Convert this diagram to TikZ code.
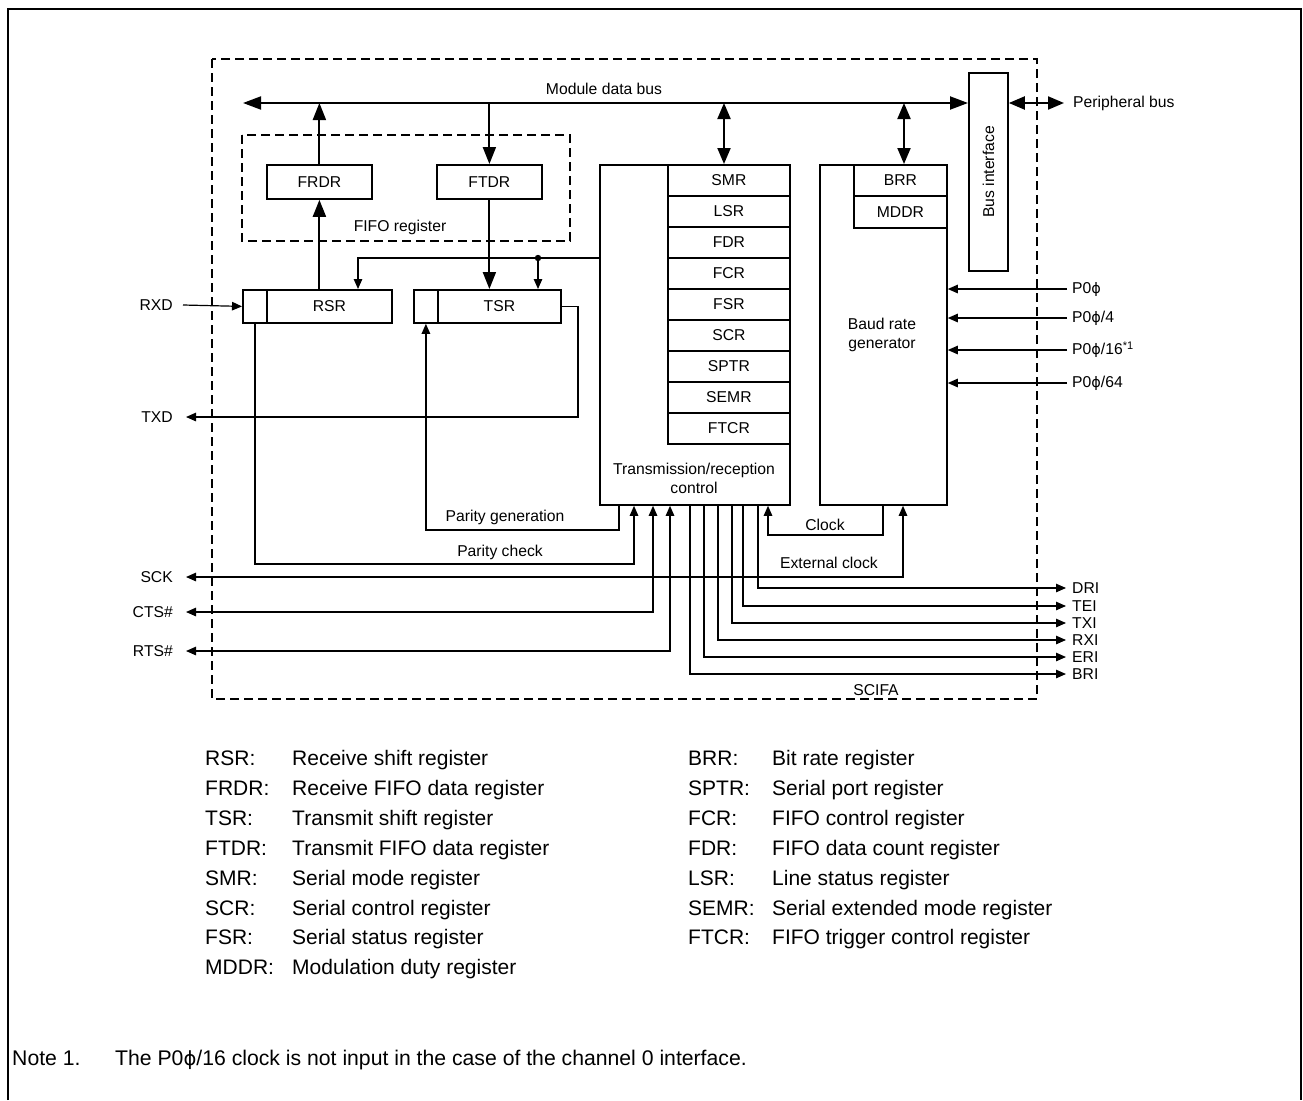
\documentclass[tikz,border=0pt]{standalone}
\usepackage{fontspec}
\setmainfont{Liberation Sans}
\newfontfamily\phifont{DejaVu Sans}
\usetikzlibrary{arrows.meta}
\newcommand\dfont{\fontsize{15.7}{19}\selectfont}
\newcommand\lfont{\fontsize{21}{25}\selectfont}
\newcommand\nfont{\fontsize{21.2}{25}\selectfont}
\newcommand\ph{{\phifont\fontsize{14.5}{17}\selectfont ϕ}}
\newcommand\nph{{\phifont\fontsize{19.5}{23}\selectfont ϕ}}
\begin{document}
\begin{tikzpicture}[x=1pt,y=-1pt,
  box/.style={draw, line width=1.8pt, inner sep=0pt, anchor=north west},
  reg/.style={box, font=\dfont},
  dbox/.style={draw, line width=1.2pt, dash pattern=on 9pt off 5pt},
  sig/.style={line width=1.2pt},
  tip/.style={-{Triangle[length=10pt,width=8.5pt]}},
  btip/.style={{Triangle[length=10pt,width=8.5pt]}-{Triangle[length=10pt,width=8.5pt]}},
  bus/.style={line width=2pt},
  btp/.style={-{Triangle[length=17pt,width=13pt]}},
  bbtp/.style={{Triangle[length=16pt,width=13pt]}-{Triangle[length=16pt,width=13pt]}},
  lbl/.style={font=\dfont, inner sep=0pt},
  leg/.style={font=\lfont, inner sep=0pt, anchor=base west},
]
\useasboundingbox (0,0) rectangle (1303,1100);
% outer frame
\draw[line width=2pt] (8,1100) -- (8,9) -- (1301,9) -- (1301,1100);
% SCIFA boundary
\draw[dbox] (212,59) rectangle (1037,699);
\node[lbl] (scifa) at (876,690) {SCIFA};

% transmission / reception control
\node[box, minimum width=190pt, minimum height=340pt] (ctrl) at (599,164) {};
\foreach \n/\t [count=\i from 0] in {smr/SMR,lsr/LSR,fdr/FDR,fcr/FCR,fsr/FSR,scr/SCR,sptr/SPTR,semr/SEMR,ftcr/FTCR}
  \node[reg, minimum width=122pt, minimum height=31pt] (\n) at (667,{164+31*\i}) {\t};
\node[lbl, align=center] (ctrltxt) at (694,478) {Transmission/reception\\control};

% baud rate generator
\node[box, minimum width=127pt, minimum height=340pt] (baud) at (819,164) {};
\node[reg, minimum width=93pt, minimum height=31pt] (brr) at (853,164) {BRR};
\node[reg, minimum width=93pt, minimum height=32pt] (mddr) at (853,195) {MDDR};
\node[lbl, align=center] (baudtxt) at (882,335) {Baud rate\\generator};

% bus interface
\node[box, minimum width=39pt, minimum height=198pt] (busif) at (968,72) {};
\node[lbl, rotate=90] (busiftxt) at (busif.center) {Bus interface};

% FIFO registers
\draw[dbox] (242,135) rectangle (570,241);
\node[lbl] (fifotxt) at (400,227) {FIFO register};
\node[reg, minimum width=105pt, minimum height=34pt] (frdr) at (266,164) {FRDR};
\node[reg, minimum width=105pt, minimum height=34pt] (ftdr) at (436,164) {FTDR};

% shift registers
\node[box, minimum width=24pt, minimum height=33pt] (rsrc) at (242,289) {};
\node[reg, minimum width=125pt, minimum height=33pt] (rsr) at (266,289) {RSR};
\node[box, minimum width=24pt, minimum height=33pt] (tsrc) at (413,289) {};
\node[reg, minimum width=123pt, minimum height=33pt] (tsr) at (437,289) {TSR};

% module data bus
\coordinate (busL) at (243,103);
\node[lbl] (mdb) at (604,89) {Module data bus};
\draw[bus, {Triangle[length=18pt,width=13pt]}-{Triangle[length=18pt,width=13pt]}] (busL) -- (busL -| busif.west);
\draw[bus, btp] (frdr.north) -- (frdr.north |- busL);
\draw[bus, btp] (ftdr.north |- busL) -- (ftdr.north);
\draw[bus, bbtp] (busL -| 724,0) -- (smr.north -| 724,0);
\draw[bus, bbtp] (busL -| 904,0) -- (brr.north -| 904,0);
\coordinate (pbend) at (1064,103);
\draw[bus, bbtp] (busL -| busif.east) -- (pbend);
\node[lbl, anchor=west] (pbtxt) at (1073,103) {Peripheral bus};

\draw[bus, btp] (frdr.south |- rsr.north) -- (frdr.south);
\draw[bus, btp] (ftdr.south) -- (ftdr.south |- tsr.north);

% control lines to shift registers
\draw[sig, tip] (ctrl.west |- 0,258) -| (rsr.north -| 358,0);
\fill (538,258) circle (3.2pt);
\draw[sig, tip] (538,258) -- (tsr.north -| 538,0);

% left pins
\node[lbl, anchor=east] (rxd) at (173,305) {RXD};
\node[lbl, anchor=east] (txd) at (173,417) {TXD};
\node[lbl, anchor=east] (sck) at (173,577) {SCK};
\node[lbl, anchor=east] (cts) at (173,612) {CTS\#};
\node[lbl, anchor=east] (rts) at (173,651) {RTS\#};

\draw[sig, tip] ([xshift=10pt]rxd.east) -- (rsrc.west);
\draw[sig, tip] (tsr.east) -| (578,417) -- ([xshift=13pt]txd.east);

% parity
\draw[sig, tip] (rsrc.south) |- (634,564) -- (ctrl.south -| 634,0);
\node[lbl] (pchk) at (500,552) {Parity check};
\draw[sig, tip] (ctrl.south -| 619,0) |- (tsrc.south |- 0,530) -- (tsrc.south);
\node[lbl] (pgen) at (505,517) {Parity generation};

% SCK / CTS / RTS
\draw[sig, btip] ([xshift=13pt]sck.east) -| (baud.south -| 903,0);
\node[lbl] (extclk) at (829,563) {External clock};
\draw[sig, btip] ([xshift=13pt]cts.east) -| (ctrl.south -| 653,0);
\draw[sig, btip] ([xshift=13pt]rts.east) -| (ctrl.south -| 670,0);

% clock
\draw[sig, tip] (baud.south -| 883,0) -- (883,535) -- (768,535) -- (ctrl.south -| 768,0);
\node[lbl] (clk) at (825,525) {Clock};

% interrupt outputs
\foreach \x/\y/\n/\t in {758/588/dri/DRI,743/606/tei/TEI,732/623/txi/TXI,718/640/rxi/RXI,704/657/eri/ERI,690/674/bri/BRI}{
  \node[lbl, anchor=west] (\n) at (1072,\y) {\t};
  \draw[sig, tip] (ctrl.south -| \x,0) |- ([xshift=-6pt]\n.west);
}

% clock inputs
\foreach \y/\n/\t in {289/pa/{P0\ph},318/pbb/{P0\ph/4},350/pc/{P0\ph/16\textsuperscript{*1}},383/pd/{P0\ph/64}}{
  \node[lbl, anchor=west] (\n) at (1072,\y) {\t};
  \draw[sig, tip] ([xshift=-5pt]\n.west) -- (baud.east |- \n.west);
}

% legend
\foreach \a/\d [count=\i from 0] in {RSR:/Receive shift register,FRDR:/Receive FIFO data register,TSR:/Transmit shift register,FTDR:/Transmit FIFO data register,SMR:/Serial mode register,SCR:/Serial control register,FSR:/Serial status register,MDDR:/Modulation duty register}{
  \node[leg] (la\i) at (205,{765.5+29.9*\i}) {\a};
  \node[leg] (ld\i) at (292,{765.5+29.9*\i}) {\d};
}
\foreach \a/\d [count=\i from 0] in {BRR:/Bit rate register,SPTR:/Serial port register,FCR:/FIFO control register,FDR:/FIFO data count register,LSR:/Line status register,SEMR:/Serial extended mode register,FTCR:/FIFO trigger control register}{
  \node[leg] (ra\i) at (688,{765.5+29.9*\i}) {\a};
  \node[leg] (rd\i) at (772,{765.5+29.9*\i}) {\d};
}

% note
\node[leg, font=\nfont] (note) at (12,1065) {Note 1.};
\node[leg, font=\nfont] (notetxt) at (115,1065) {The P0\nph/16 clock is not input in the case of the channel 0 interface.};
\end{tikzpicture}
\end{document}
